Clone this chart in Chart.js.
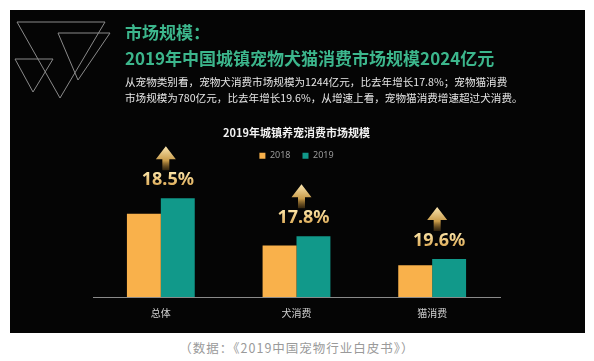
<!DOCTYPE html>
<html>
<head>
<meta charset="utf-8">
<script src="https://cdn.jsdelivr.net/npm/chart.js@4"></script>
<style>
  html, body { margin: 0; padding: 0; background: #fff; width: 594px; height: 361px; overflow: hidden; }
  #board { position: absolute; left: 10px; top: 10px; width: 575px; height: 323px; background: #050505; }
  #chartBox { position: absolute; left: 0; top: 0; width: 575px; height: 323px; }
  .txt { position: absolute; font-family: "Noto Sans CJK SC", sans-serif; white-space: nowrap; }
  #h1 { left: 115px; top: 12px; font-size: 17px; font-weight: bold; color: #3cb68c; line-height: 20px; }
  #h2 { left: 115px; top: 38px; font-size: 17px; font-weight: bold; color: #3cb68c; line-height: 20px; }
  #p1 { left: 115px; top: 64px; font-size: 10.6px; color: #e6e6e6; line-height: 16px; }
  #caption { position: absolute; left: 0; width: 594px; top: 338px; text-align: center;
    font-family: "Noto Sans CJK SC", sans-serif; font-size: 12.5px; color: #9a9a9a; letter-spacing: 1px; }
  svg { position: absolute; left: 0; top: 0; }
</style>
</head>
<body>
<div id="board">
  <svg width="120" height="110">
    <g fill="none" stroke="#8a8a8a" stroke-width="1">
      <polygon points="7,12 95,12 50,88" />
      <polygon points="48,23 100,23 68,70" />
      <polygon points="5,49 43,49 23,82" />
    </g>
  </svg>
  <div id="chartBox"><canvas id="market-chart"></canvas></div>
  <div class="txt" id="h1">市场规模：</div>
  <div class="txt" id="h2">2019年中国城镇宠物犬猫消费市场规模2024亿元</div>
  <div class="txt" id="p1">从宠物类别看，宠物犬消费市场规模为1244亿元，比去年增长17.8%；宠物猫消费<br>市场规模为780亿元，比去年增长19.6%，从增速上看，宠物猫消费增速超过犬消费。</div>
</div>
<div id="caption">（数据：《2019中国宠物行业白皮书》）</div>

<script>
// 数据（亿元）
var categories = ['总体', '犬消费', '猫消费'];
var values2018 = [1708, 1056, 652];
var values2019 = [2024, 1244, 780];
var growthLabels = ['18.5%', '17.8%', '19.6%'];

// 增长箭头和百分比
var growthPlugin = {
    id: 'growth',
    afterDatasetsDraw: function (chart) {
        var ctx = chart.ctx;
        var xScale = chart.scales.x;
        var bars = chart.getDatasetMeta(1).data;
        ctx.save();
        for (var i = 0; i < bars.length; i++) {
            var cx = xScale.getPixelForValue(i) + 7;
            var cy = bars[i].y - 18;
            // texto
            var tg = ctx.createLinearGradient(0, cy - 8, 0, cy + 8);
            tg.addColorStop(0, '#fbe3a6');
            tg.addColorStop(1, '#d8a24a');
            ctx.fillStyle = tg;
            ctx.font = 'bold 18px "Noto Sans", sans-serif';
            ctx.textAlign = 'center';
            ctx.textBaseline = 'middle';
            ctx.fillText(growthLabels[i], cx, cy);
            // flecha
            var ax = cx - 2;
            var bottom = cy - 10;
            var top = bottom - 24;
            var ag = ctx.createLinearGradient(0, top, 0, bottom);
            ag.addColorStop(0, '#fbe6b0');
            ag.addColorStop(0.6, '#c89a48');
            ag.addColorStop(1, 'rgba(120, 85, 30, 0.4)');
            ctx.fillStyle = ag;
            ctx.beginPath();
            ctx.moveTo(ax, top);
            ctx.lineTo(ax + 10, top + 13);
            ctx.lineTo(ax + 3.5, top + 13);
            ctx.lineTo(ax + 3.5, bottom);
            ctx.lineTo(ax - 3.5, bottom);
            ctx.lineTo(ax - 3.5, top + 13);
            ctx.lineTo(ax - 10, top + 13);
            ctx.closePath();
            ctx.fill();
        }
        ctx.restore();
    }
};

var marketCtx = document.getElementById('market-chart').getContext('2d');
var marketChart = new Chart(marketCtx, {
    type: 'bar',
    data: {
        labels: categories,
        datasets: [{
            label: '2018',
            data: values2018,
            backgroundColor: '#f9b14b',
            borderWidth: 0
        }, {
            label: '2019',
            data: values2019,
            backgroundColor: '#11998a',
            borderWidth: 0
        }]
    },
    options: {
        responsive: true,
        maintainAspectRatio: false,
        animation: false,
        layout: {
            padding: { left: 83, right: 85, top: 116, bottom: 4 }
        },
        datasets: {
            bar: { barPercentage: 1, categoryPercentage: 0.5 }
        },
        plugins: {
            title: {
                display: true,
                text: '2019年城镇养宠消费市场规模',
                color: '#f2f2f2',
                font: { family: '"Noto Sans CJK SC", sans-serif', size: 11, weight: 'bold' },
                padding: { top: 0, bottom: 0 }
            },
            legend: {
                display: true,
                labels: {
                    color: '#9a9a9a',
                    boxWidth: 6,
                    boxHeight: 6,
                    padding: 12,
                    font: { family: '"Noto Sans", sans-serif', size: 9 }
                }
            },
            tooltip: { enabled: false }
        },
        scales: {
            x: {
                grid: { display: false, drawTicks: false },
                border: { display: true, color: '#8a8a8a', width: 1 },
                ticks: {
                    color: '#d0d0d0',
                    padding: 10,
                    font: { family: '"Noto Sans CJK SC", sans-serif', size: 10 }
                }
            },
            y: {
                display: false,
                min: 0,
                max: 2600
            }
        }
    },
    plugins: [growthPlugin]
});
</script>
</body>
</html>
